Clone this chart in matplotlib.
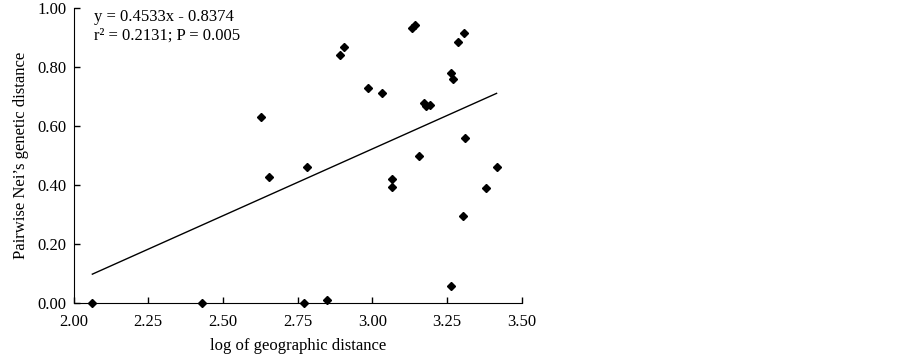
import numpy as np
import matplotlib.pyplot as plt
from matplotlib.ticker import FormatStrFormatter

plt.rcParams['font.family'] = ['Liberation Serif', 'DejaVu Serif']

# points (log distance, Nei's distance)
log_dist = [2.063, 2.431, 2.772, 2.849,
            2.626, 2.654, 2.780, 3.066, 3.064,
            2.906, 2.892, 2.984, 3.032,
            3.132, 3.143, 3.306, 3.287, 3.263, 3.268,
            3.171, 3.179, 3.191,
            3.310, 3.157, 3.415, 3.380, 3.304, 3.261]
nei_dist = [0.000, 0.000, 0.000, 0.009,
            0.632, 0.426, 0.461, 0.419, 0.394,
            0.869, 0.841, 0.728, 0.711,
            0.932, 0.944, 0.916, 0.886, 0.779, 0.758,
            0.677, 0.668, 0.672,
            0.560, 0.498, 0.461, 0.390, 0.296, 0.058]

slope = 0.4533
intercept = -0.8374

x_ticks = [2.00, 2.25, 2.50, 2.75, 3.00, 3.25, 3.50]
y_ticks = [0.00, 0.20, 0.40, 0.60, 0.80, 1.00]

fig = plt.figure(figsize=(9.02, 3.55), dpi=100)
ax = fig.add_axes([0.0815, 0.1465, 0.4972, 0.831])

# trend line over the data range
x = np.array(log_dist)
xl = np.array([x.min(), x.max()])
ax.plot(xl, slope * xl + intercept, color='black', lw=1.0)

ax.plot(log_dist, nei_dist, 'D', color='black', markersize=3.8, clip_on=False)

ax.set_xlim(2.0, 3.5)
ax.set_ylim(0.0, 1.0)
ax.set_xticks(x_ticks)
ax.set_yticks(y_ticks)
ax.xaxis.set_major_formatter(FormatStrFormatter('%.2f'))
ax.yaxis.set_major_formatter(FormatStrFormatter('%.2f'))
ax.tick_params(direction='in', length=4, width=1, labelsize=12, pad=5)
ax.tick_params(axis='x', pad=8)

ax.spines['top'].set_visible(False)
ax.spines['right'].set_visible(False)

ax.set_xlabel('log of geographic distance', fontsize=12, labelpad=6)
ax.set_ylabel('Pairwise Nei\u2019s genetic distance', fontsize=12, labelpad=6)

ax.text(0.045, 0.998, 'y = 0.4533x - 0.8374\nr\u00b2 = 0.2131; P = 0.005',
        transform=ax.transAxes, fontsize=12, va='top', ha='left', linespacing=1.25)

fig.savefig('out.png', dpi=100)
